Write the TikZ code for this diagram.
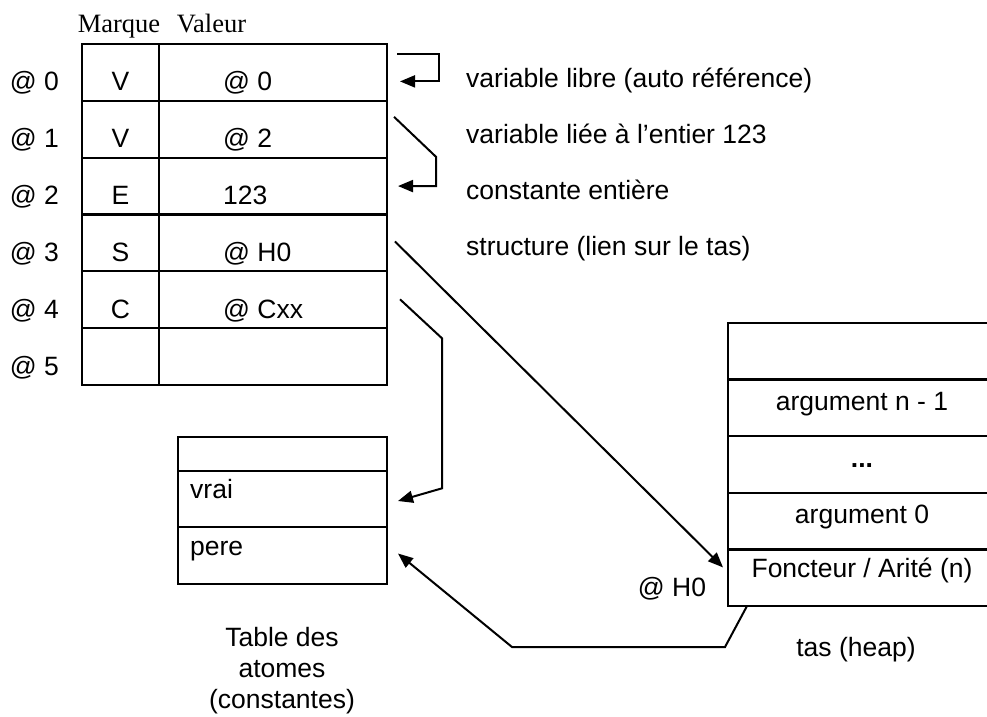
\documentclass[tikz,border=0pt]{standalone}
\usepackage{fontspec}
\setmainfont{Liberation Sans}
\newfontfamily\headfont{Liberation Serif}
\usetikzlibrary{arrows.meta, positioning}

\begin{document}
\begin{tikzpicture}[
    x=1pt, y=-1pt,
    font=\fontsize{26.5}{31}\selectfont,
    cell/.style={rectangle, draw=black, line width=2.3pt, inner sep=0pt, outer sep=0pt},
    mcell/.style={cell, minimum width=77pt, minimum height=56.83pt, text height=37pt, text depth=0pt},
    vcell/.style={cell, minimum width=228pt, minimum height=56.83pt},
    acell/.style={cell, minimum width=209pt},
    hcell/.style={cell, minimum width=268pt, minimum height=56.6pt},
    txt/.style={inner sep=0pt, text height=19pt, text depth=0pt},
    val/.style={txt, anchor=west},
    head/.style={txt, font=\headfont\fontsize{26.5}{31}\selectfont},
    arrow/.style={-{Triangle[length=15pt, width=12pt]}, line width=2pt}
]
    \useasboundingbox (0,0) rectangle (987,716);

    % table principale
    \node[head] (hmarque) at (119,23) {Marque};
    \node[head] (hvaleur) at (211.5,23) {Valeur};

    \node[mcell] (m0) at (120.5,72.4) {V};
    \node[mcell, below=0pt of m0] (m1) {V};
    \node[mcell, below=0pt of m1] (m2) {E};
    \node[mcell, below=0pt of m2] (m3) {S};
    \node[mcell, below=0pt of m3] (m4) {C};
    \node[mcell, below=0pt of m4] (m5) {};

    \node[vcell, right=0pt of m0] (v0) {};
    \node[vcell, right=0pt of m1] (v1) {};
    \node[vcell, right=0pt of m2] (v2) {};
    \node[vcell, right=0pt of m3] (v3) {};
    \node[vcell, right=0pt of m4] (v4) {};
    \node[vcell, right=0pt of m5] (v5) {};

    \node[val] (v0t) at ([shift={(64,9)}]v0.west) {@ 0};
    \node[val] (v1t) at ([shift={(64,9)}]v1.west) {@ 2};
    \node[val] (v2t) at ([shift={(64,9)}]v2.west) {123};
    \node[val] (v3t) at ([shift={(64,9)}]v3.west) {@ H0};
    \node[val] (v4t) at ([shift={(64,9)}]v4.west) {@ Cxx};

    \node[txt, left=23pt of m0, yshift=-9pt] (a0) {@ 0};
    \node[txt, left=23pt of m1, yshift=-9pt] (a1) {@ 1};
    \node[txt, left=23pt of m2, yshift=-9pt] (a2) {@ 2};
    \node[txt, left=23pt of m3, yshift=-9pt] (a3) {@ 3};
    \node[txt, left=23pt of m4, yshift=-9pt] (a4) {@ 4};
    \node[txt, left=23pt of m5, yshift=-9pt] (a5) {@ 5};

    \node[val] (n0) at (466,78) {variable libre (auto référence)};
    \node[val] (n1) at (466,134) {variable liée à l’entier 123};
    \node[val] (n2) at (466,190) {constante entière};
    \node[val] (n3) at (466,246) {structure (lien sur le tas)};

    % table des atomes
    \node[acell, minimum height=34pt] (c0) at (282.5,454) {};
    \node[acell, minimum height=56pt, below=0pt of c0] (c1) {};
    \node[acell, minimum height=57pt, below=0pt of c1] (c2) {};
    \node[val] (c1t) at ([shift={(12,-10)}]c1.west) {vrai};
    \node[val] (c2t) at ([shift={(12,-10)}]c2.west) {pere};
    \node[align=center] (atomes) at (282,671) {Table des\\atomes\\(constantes)};

    % tas
    \node[hcell] (h0) at (862,351.3) {};
    \node[hcell, below=0pt of h0] (h1) {};
    \node[hcell, below=0pt of h1] (h2) {};
    \node[hcell, below=0pt of h2] (h3) {};
    \node[hcell, below=0pt of h3] (h4) {};
    \node[txt] (h1t) at ([yshift=7pt]h1) {argument n - 1};
    \node[txt] (h2t) at ([yshift=7pt]h2) {\textbf{...}};
    \node[txt] (h3t) at ([yshift=7pt]h3) {argument 0};
    \node[txt] (h4t) at ([yshift=10pt]h4) {Foncteur / Arité (n)};
    \node[txt] (h0lbl) at (672,587) {@ H0};
    \node[txt] (tas) at (856,647) {tas (heap)};

    % liens
    \draw[arrow] ([shift={(10,10)}]v0.north east) -- ++(42,0) |- ([shift={(13,9)}]v0.east);
    \draw[arrow] ([shift={(7,16)}]v1.north east) -- ++(42,40) |- ([shift={(11,0)}]v2.east);
    \draw[arrow] ([shift={(8,27)}]v3.north east) -- ([shift={(-5,18)}]h4.north west);
    \draw[arrow] ([shift={(13,28)}]v4.north east) -- ++(42,39) -- ++(0,150) -- ([shift={(11,2)}]c1.east);
    \draw[arrow] ([xshift=19pt]h4.south west) -- ++(-22,41) -- ++(-213,0) -- ([shift={(11,-2)}]c2.east);
\end{tikzpicture}
\end{document}
